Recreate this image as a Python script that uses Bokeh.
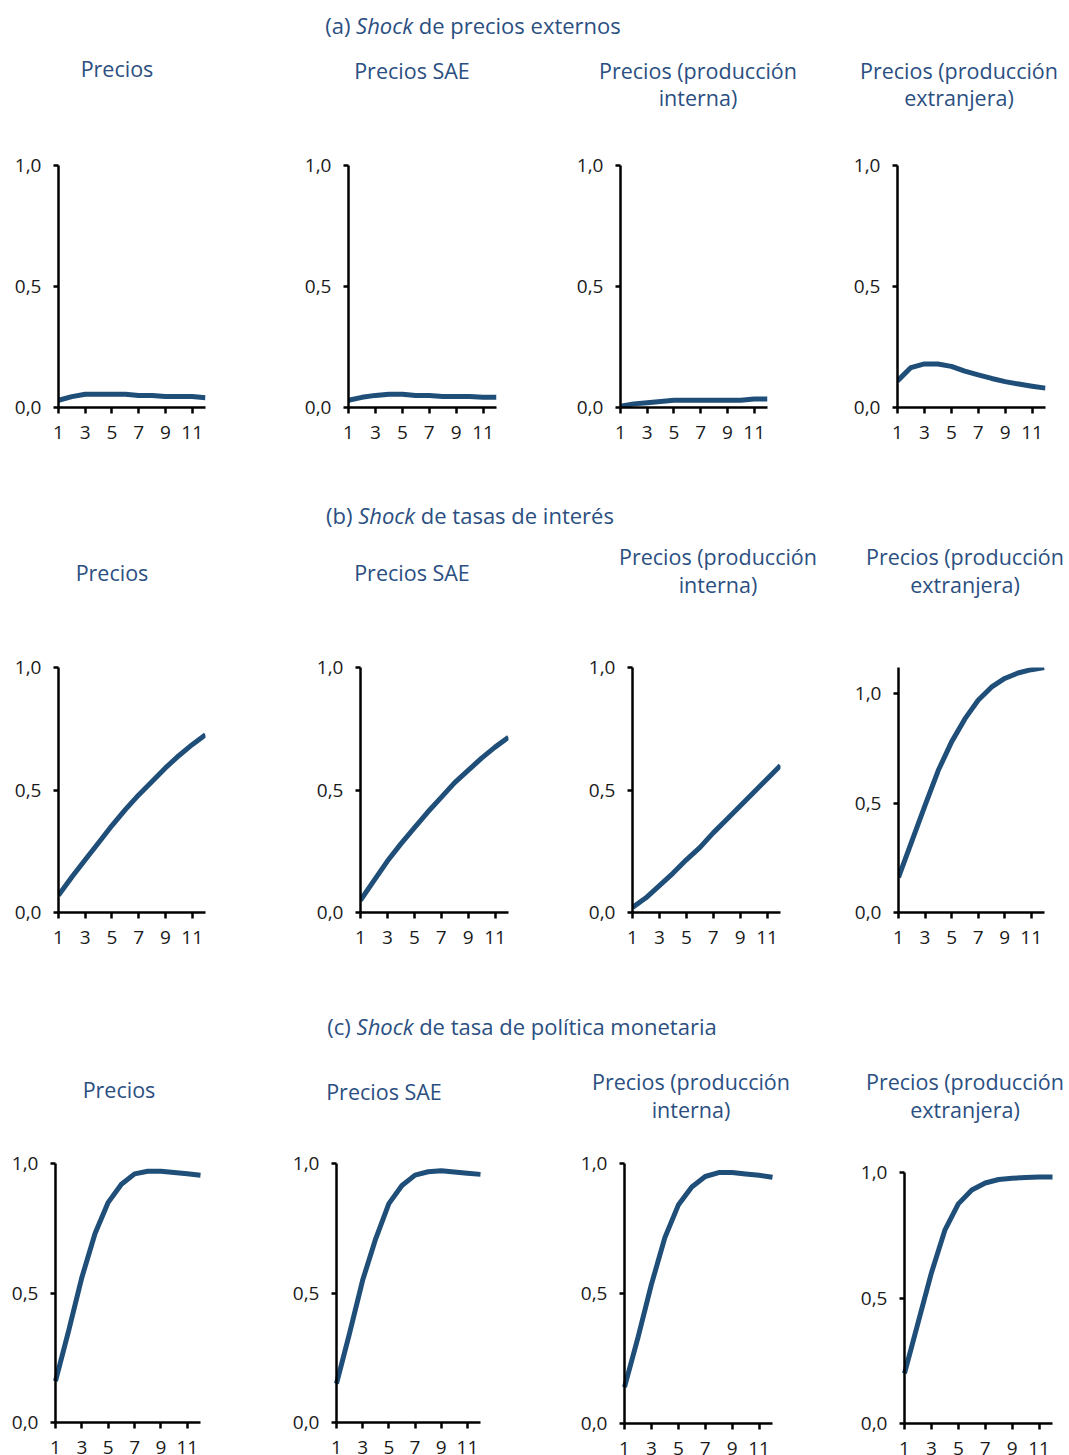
from bokeh.plotting import figure
from bokeh.layouts import column, row
from bokeh.models import Range1d, FixedTicker, Div, ColumnDataSource
from bokeh.embed import file_html
from bokeh.resources import INLINE

# ---------------- data ----------------
months = [1, 2, 3, 4, 5, 6, 7, 8, 9, 10, 11, 12]

# (a) Shock de precios externos
a_precios = [0.03, 0.045, 0.055, 0.055, 0.055, 0.055, 0.05, 0.05, 0.045, 0.045, 0.045, 0.04]
a_sae = [0.03, 0.042, 0.05, 0.055, 0.055, 0.05, 0.05, 0.045, 0.045, 0.045, 0.042, 0.042]
a_interna = [0.005, 0.015, 0.02, 0.025, 0.03, 0.03, 0.03, 0.03, 0.03, 0.03, 0.035, 0.035]
a_extranjera = [0.11, 0.165, 0.18, 0.18, 0.17, 0.15, 0.135, 0.12, 0.107, 0.097, 0.088, 0.08]

# (b) Shock de tasas de interés
b_precios = [0.07, 0.145, 0.215, 0.285, 0.355, 0.42, 0.48, 0.535, 0.59, 0.64, 0.685, 0.725]
b_sae = [0.05, 0.13, 0.21, 0.28, 0.345, 0.41, 0.47, 0.53, 0.58, 0.63, 0.675, 0.715]
b_interna = [0.02, 0.06, 0.11, 0.16, 0.215, 0.265, 0.325, 0.38, 0.435, 0.49, 0.545, 0.6]
b_extranjera = [0.16, 0.325, 0.49, 0.65, 0.78, 0.885, 0.97, 1.03, 1.07, 1.095, 1.11, 1.12]

# (c) Shock de tasa de política monetaria
c_precios = [0.16, 0.355, 0.56, 0.73, 0.85, 0.92, 0.96, 0.97, 0.97, 0.965, 0.96, 0.955]
c_sae = [0.15, 0.345, 0.55, 0.71, 0.845, 0.915, 0.955, 0.968, 0.972, 0.967, 0.962, 0.958]
c_interna = [0.14, 0.33, 0.535, 0.715, 0.84, 0.91, 0.95, 0.965, 0.965, 0.96, 0.955, 0.947]
c_extranjera = [0.2, 0.4, 0.6, 0.77, 0.875, 0.93, 0.958, 0.972, 0.977, 0.98, 0.982, 0.982]

x_ticks = [1, 3, 5, 7, 9, 11]
x_tick_labels = ["1", "3", "5", "7", "9", "11"]
y_ticks = [0.0, 0.5, 1.0]
y_tick_labels = ["0,0", "0,5", "1,0"]

section_titles = [
    ("(a)", "Shock", "de precios externos"),
    ("(b)", "Shock", "de tasas de interés"),
    ("(c)", "Shock", "de tasa de política monetaria"),
]
panel_titles = [
    ["Precios"],
    ["Precios SAE"],
    ["Precios (producción", "interna)"],
    ["Precios (producción", "extranjera)"],
]
series = [
    [a_precios, a_sae, a_interna, a_extranjera],
    [b_precios, b_sae, b_interna, b_extranjera],
    [c_precios, c_sae, c_interna, c_extranjera],
]

# ---------------- layout / style ----------------
FONT = "Open Sans"
TITLE_COLOR = "#2B4F81"
LINE_COLOR = "#1F4E79"
TICK_COLOR = "#1a1a1a"
HEAD_PX = 22
TITLE_PX = 21.5
TICK_PX = "19px"
PAGE_W = 1069
X_FIRST, X_LAST = 1, 12

CELLS = [(0, 265), (265, 545), (545, 820), (820, 1069)]
SECTIONS = [(0, 130), (490, 620), (985, 1135)]      # text block top/bottom (page px)
ROWS = [(130, 490), (620, 985), (1135, 1455)]        # chart row top/bottom (page px)
# frame (left = x of first month, right = x of last month, top = y_end, bottom = y 0), page px
FRAMES = [
    [(58, 205, 163, 407), (348, 496, 165, 408), (620, 767, 164, 409), (897, 1045, 163, 407)],
    [(58, 205, 667, 912), (360, 508, 654, 914), (632, 780, 656, 913), (898, 1044, 654, 913)],
    [(55, 200, 1163, 1422), (336, 480, 1163, 1422), (624, 772, 1163, 1423), (904, 1052, 1172, 1423)],
]
Y_END = [[1.0, 1.0, 1.0, 1.0], [1.0, 1.0, 1.0, 1.12], [1.0, 1.0, 1.0, 1.0]]
# heading centre x and baseline (page px)
HEAD = [(473, 33), (470, 523), (522, 1034)]
# panel title centre x and baselines (page px)
TITLE_POS = [
    [(117, [77]), (412, [79]), (698, [79, 106]), (959, [79, 106])],
    [(112, [581]), (412, [581]), (718, [565, 593]), (965, [565, 593])],
    [(119, [1098]), (384, [1100]), (691, [1090, 1118]), (965, [1090, 1118])],
]


def style_axis(ax):
    ax.axis_line_width = 2.5
    ax.axis_line_color = "black"
    ax.major_tick_line_width = 2.5
    ax.major_tick_line_color = "black"
    ax.major_tick_in = 0
    ax.minor_tick_line_color = None
    ax.major_label_text_font = FONT
    ax.major_label_text_font_size = TICK_PX
    ax.major_label_text_color = TICK_COLOR


def make_panel(r, c):
    cl, cr = CELLS[c]
    rt, rb = ROWS[r]
    fl, fr, ft, f0 = FRAMES[r][c]
    y_end = Y_END[r][c]
    pinned = (r == 2)
    if pinned:
        # the last row's tick labels run past the page bottom: the frame fills the whole
        # cell and both axes are pinned at x = first month / y = 0
        ux = (fr - fl) / (X_LAST - X_FIRST)
        uy = (f0 - ft) / y_end
        x_range = Range1d(X_FIRST - (fl - cl) / ux, X_LAST + (cr - fr) / ux)
        y_range = Range1d(-(rb - f0) / uy, y_end + (ft - rt) / uy)
        borders = dict(min_border_left=0, min_border_right=0, min_border_top=0, min_border_bottom=0)
    else:
        x_range = Range1d(X_FIRST, X_LAST)
        y_range = Range1d(0, y_end)
        borders = dict(min_border_left=fl - cl, min_border_right=cr - fr,
                       min_border_top=ft - rt, min_border_bottom=rb - f0)
    p = figure(width=cr - cl, height=rb - rt, x_range=x_range, y_range=y_range,
               toolbar_location=None, tools="", output_backend="svg", title=None, **borders)
    p.outline_line_color = None
    p.xgrid.visible = False
    p.ygrid.visible = False
    p.background_fill_color = "white"
    p.border_fill_color = "white"

    src = ColumnDataSource(dict(x=months, y=series[r][c]))
    p.line("x", "y", source=src, line_width=5, line_color=LINE_COLOR, line_join="round")

    style_axis(p.xaxis[0])
    style_axis(p.yaxis[0])

    p.yaxis.ticker = FixedTicker(ticks=y_ticks)
    p.yaxis.major_label_overrides = dict(zip(y_ticks, y_tick_labels))
    p.yaxis.major_tick_out = 5
    p.yaxis.major_label_standoff = 12
    p.yaxis.bounds = (0, y_end)

    p.xaxis.ticker = FixedTicker(ticks=x_ticks)
    p.xaxis.major_label_overrides = dict(zip(x_ticks, x_tick_labels))
    p.xaxis.major_tick_out = 6
    p.xaxis.major_label_standoff = 12
    p.xaxis.bounds = (X_FIRST, X_LAST)
    if pinned:
        p.xaxis.fixed_location = 0
        p.yaxis.fixed_location = X_FIRST
    return p


def line_div(cx, baseline, html, w, px):
    w = min(w, 2 * cx, 2 * (PAGE_W - cx))
    top = baseline - 0.888 * px  # baseline offset in a line box of height = font size
    return (f'<div style="position:absolute;left:{cx - w / 2:.1f}px;top:{top:.1f}px;width:{w}px;'
            f'text-align:center;white-space:nowrap;font-size:{px}px;line-height:{px}px;">'
            f'{html}</div>')


def section_div(i):
    st, sb = SECTIONS[i]
    parts = []
    a, b, c = section_titles[i]
    hx, hb = HEAD[i]
    parts.append(line_div(hx, hb - st, f"{a} <i>{b}</i> {c}", 700, HEAD_PX))
    for k, (tx, bls) in enumerate(TITLE_POS[i]):
        for txt, bl in zip(panel_titles[k], bls):
            parts.append(line_div(tx, bl - st, txt, 250, TITLE_PX))
    html = (f'<div style="position:relative;width:{PAGE_W}px;height:{sb - st}px;overflow:hidden;'
            f"font-family:'{FONT}';color:{TITLE_COLOR};\">" + "".join(parts) + "</div>")
    return Div(text=html, width=PAGE_W, height=sb - st, margin=0)


children = []
for r in range(3):
    children.append(section_div(r))
    children.append(row([make_panel(r, c) for c in range(4)], spacing=0))

layout = column(children, spacing=0)

with open("out.html", "w") as f:
    f.write(file_html(layout, INLINE))
